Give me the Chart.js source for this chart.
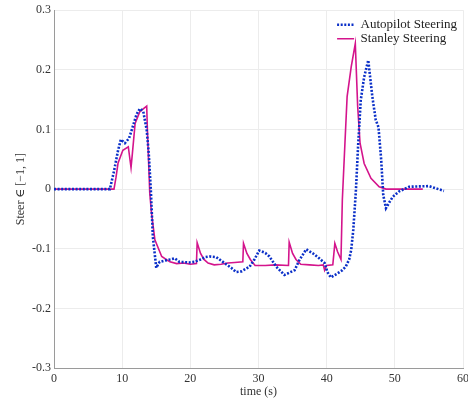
<!DOCTYPE html>
<html>
<head>
<meta charset="utf-8">
<script src="https://cdn.jsdelivr.net/npm/chart.js@4"></script>
<style>
  html, body { margin: 0; padding: 0; background: #fff; }
</style>
</head>
<body>
<canvas id="steerChart" width="468" height="402"></canvas>
<script>
// time axis (s) and steer values
const autoTime = [0, 8.2, 8.8, 9.4, 9.8, 10.4, 11.0, 11.4, 12.1, 12.6, 13.1, 13.6, 13.9, 14.2, 14.5, 15.0, 15.5, 16.2, 17.0, 17.7, 18.4, 19.9, 20.6, 21.5, 22.2, 22.8, 23.8, 25.0, 26.0, 26.7, 27.5, 28.7, 29.4, 30.1, 31.0, 31.6, 32.6, 33.8, 35.3, 36.0, 37.0, 38.0, 38.9, 39.7, 40.1, 40.6, 41.5, 42.3, 42.8, 43.3, 43.6, 43.9, 44.2, 44.3, 44.6, 45.0, 45.5, 46.1, 46.7, 47.2, 47.6, 48.0, 48.3, 48.7, 49.2, 49.7, 50.6, 52.1, 55.0, 57.2];
const autoSteer = [0, 0, 0.03, 0.065, 0.083, 0.077, 0.085, 0.099, 0.125, 0.135, 0.13, 0.099, 0.06, 0.0, -0.08, -0.132, -0.122, -0.12, -0.118, -0.116, -0.122, -0.123, -0.122, -0.118, -0.114, -0.113, -0.114, -0.124, -0.132, -0.139, -0.138, -0.13, -0.118, -0.103, -0.107, -0.113, -0.13, -0.144, -0.136, -0.119, -0.101, -0.108, -0.116, -0.124, -0.139, -0.148, -0.142, -0.136, -0.13, -0.118, -0.102, -0.069, -0.018, 0.0, 0.07, 0.149, 0.188, 0.216, 0.155, 0.116, 0.104, 0.049, -0.01, -0.032, -0.022, -0.013, -0.004, 0.004, 0.005, -0.003];

const stanTime = [0, 8.8, 9.1, 9.4, 10.1, 10.9, 11.3, 11.5, 11.9, 12.6, 13.6, 13.7, 14.05, 14.3, 14.8, 15.8, 17.0, 18.0, 19.0, 20.0, 20.9, 21.0, 21.5, 22.0, 22.6, 23.5, 24.5, 25.5, 26.5, 27.7, 27.8, 28.3, 28.8, 29.5, 31.0, 32.5, 34.4, 34.5, 35.0, 35.5, 36.2, 37.5, 38.8, 39.5, 39.7, 40.0, 40.9, 41.2, 41.6, 42.1, 42.3, 42.7, 43.0, 43.6, 44.2, 44.55, 44.9, 45.5, 46.5, 47.7, 48.7, 54.1];
const stanSteer = [0, 0, 0.02, 0.044, 0.065, 0.071, 0.036, 0.06, 0.11, 0.13, 0.139, 0.10, -0.007, -0.04, -0.085, -0.113, -0.122, -0.125, -0.124, -0.126, -0.125, -0.09, -0.108, -0.118, -0.124, -0.127, -0.126, -0.124, -0.123, -0.122, -0.091, -0.108, -0.118, -0.128, -0.128, -0.127, -0.128, -0.089, -0.108, -0.118, -0.126, -0.127, -0.128, -0.127, -0.136, -0.128, -0.127, -0.091, -0.105, -0.118, -0.018, 0.082, 0.155, 0.205, 0.244, 0.138, 0.077, 0.043, 0.018, 0.004, 0, 0];

const seriesNames = ["Autopilot Steering", "Stanley Steering"];
const xTicks = [0, 10, 20, 30, 40, 50, 60];
const yTicks = [-0.3, -0.2, -0.1, 0, 0.1, 0.2, 0.3];

const serif = "'Liberation Serif', 'DejaVu Serif', serif";
const toPoints = (xs, ys) => xs.map((x, i) => ({ x: x, y: ys[i] }));

// move the legend into the top-right corner of the plot
const legendCorner = {
    id: "legendCorner",
    afterLayout(chart) {
        const lg = chart.legend;
        const area = chart.chartArea;
        const w = lg.width;
        lg.left = area.right - w + 4;
        lg.right = lg.left + w;
        lg.top = area.top + 7;
        lg.bottom = lg.top + lg.height;
    },
};

const steerCtx = document.getElementById("steerChart");
window.steerChart = new Chart(steerCtx, {
    type: "line",
    data: {
        datasets: [
            {
                label: seriesNames[0],
                data: toPoints(autoTime, autoSteer),
                borderColor: "#0a2fc8",
                borderWidth: 2.6,
                borderDash: [2, 1.6],
                pointRadius: 0,
                tension: 0,
            },
            {
                label: seriesNames[1],
                data: toPoints(stanTime, stanSteer),
                borderColor: "#d4148c",
                borderWidth: 1.6,
                pointRadius: 0,
                tension: 0,
            },
        ],
    },
    options: {
        responsive: false,
        animation: false,
        layout: { padding: { left: 0, right: 5, top: 10, bottom: 0 } },
        plugins: {
            legend: {
                position: "chartArea",
                align: "start",
                labels: {
                    usePointStyle: true,
                    pointStyle: "line",
                    pointStyleWidth: 17,
                    boxWidth: 17,
                    padding: 1,
                    color: "#222",
                    font: { family: serif, size: 13 },
                    generateLabels(chart) {
                        return chart.data.datasets.map((ds, i) => ({
                            text: ds.label,
                            strokeStyle: ds.borderColor,
                            fillStyle: ds.borderColor,
                            lineWidth: ds.borderWidth,
                            lineDash: ds.borderDash || [],
                            pointStyle: "line",
                            fontColor: "#222",
                            datasetIndex: i,
                        }));
                    },
                },
            },
            tooltip: { enabled: false },
        },
        scales: {
            x: {
                type: "linear",
                min: 0,
                max: 60,
                afterBuildTicks: (s) => { s.ticks = xTicks.map((v) => ({ value: v })); },
                afterFit: (s) => { s.height = 34; s.paddingLeft = 0; s.paddingRight = 0; },
                ticks: { color: "#333", padding: 4, font: { family: serif, size: 12 } },
                grid: { color: "#ececec", drawTicks: false },
                border: { color: "#9a9a9a" },
                title: {
                    display: true,
                    text: "time (s)",
                    color: "#333",
                    padding: { top: 0, bottom: 3 },
                    font: { family: serif, size: 12 },
                },
            },
            y: {
                min: -0.3,
                max: 0.3,
                afterBuildTicks: (s) => { s.ticks = yTicks.map((v) => ({ value: v })); },
                afterFit: (s) => { s.width = 54; },
                ticks: {
                    color: "#333",
                    padding: 3,
                    font: { family: serif, size: 12 },
                    callback: (v) => String(Number(v.toFixed(1))),
                },
                grid: { color: "#ececec", drawTicks: false },
                border: { color: "#9a9a9a" },
                title: {
                    display: true,
                    text: "Steer \u2208 [\u22121, 1]",
                    color: "#333",
                    padding: { top: 14, bottom: 4 },
                    font: { family: serif, size: 12 },
                },
            },
        },
    },
    plugins: [legendCorner],
});
</script>
</body>
</html>
